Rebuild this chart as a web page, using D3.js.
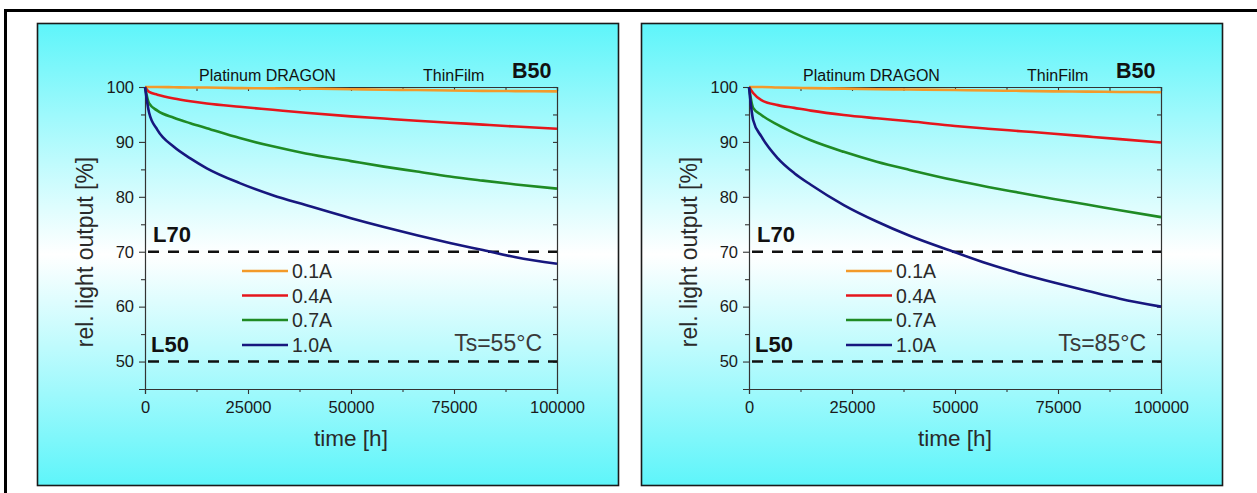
<!DOCTYPE html>
<html><head><meta charset="utf-8">
<script src="https://cdn.jsdelivr.net/npm/d3@7"></script>
<style>
html,body{margin:0;padding:0;background:#fff;}
svg{display:block;font-family:"Liberation Sans",Arial,Helvetica,sans-serif;}
</style></head>
<body>
<svg id="chart" width="1257" height="493"></svg>
<script>
// ---- data ----
const timeH = [0, 1000, 3000, 7000, 11000, 15000, 23000, 31000, 39000, 50000, 58000, 66000, 74000, 82000, 90000, 100000];
const currents = ["0.1A", "0.4A", "0.7A", "1.0A"];
const seriesColors = ["#f39a2a", "#e5161c", "#1f8a24", "#17177e"];

// Ts = 55°C
const ts55_01A = [100, 100, 100, 99.95, 99.9, 99.9, 99.8, 99.75, 99.7, 99.6, 99.5, 99.45, 99.35, 99.3, 99.25, 99.2];
const ts55_04A = [100, 99.1, 98.6, 97.9, 97.4, 97.0, 96.4, 95.85, 95.3, 94.65, 94.25, 93.85, 93.5, 93.15, 92.8, 92.4];
const ts55_07A = [100, 97.0, 95.7, 94.4, 93.4, 92.5, 90.7, 89.2, 87.9, 86.5, 85.5, 84.6, 83.7, 82.95, 82.25, 81.5];
const ts55_10A = [100, 95.3, 92.2, 89.1, 87.0, 85.2, 82.5, 80.3, 78.5, 76.1, 74.5, 73.0, 71.6, 70.3, 69.0, 67.8];

// Ts = 85°C
const ts85_01A = [100, 100, 100, 99.9, 99.85, 99.8, 99.7, 99.6, 99.55, 99.45, 99.35, 99.3, 99.2, 99.15, 99.1, 99.05];
const ts85_04A = [100, 98.9, 97.6, 96.7, 96.2, 95.7, 94.9, 94.3, 93.75, 92.9, 92.4, 91.95, 91.5, 91.0, 90.5, 89.9];
const ts85_07A = [100, 96.2, 94.9, 93.1, 91.6, 90.3, 88.2, 86.4, 84.9, 83.0, 81.8, 80.7, 79.6, 78.6, 77.55, 76.3];
const ts85_10A = [100, 94.0, 91.0, 87.0, 84.3, 82.2, 78.5, 75.5, 72.9, 69.9, 67.8, 66.0, 64.4, 62.9, 61.45, 60.0];

const xTicks = [0, 25000, 50000, 75000, 100000];
const xMinorTicks = [12500, 37500, 62500, 87500];
const yTicks = [50, 60, 70, 80, 90, 100];
const yMinorTicks = [55, 65, 75, 85, 95];
const limitLines = [{v: 70, label: "L70"}, {v: 50, label: "L50"}];

const panels = [
  {temp: "Ts=55°C", series: [ts55_01A, ts55_04A, ts55_07A, ts55_10A], dx: 0},
  {temp: "Ts=85°C", series: [ts85_01A, ts85_04A, ts85_07A, ts85_10A], dx: 604}
];

// ---- drawing ----
const svg = d3.select("#chart");
const defs = svg.append("defs");
const grad = defs.append("linearGradient").attr("id", "bg").attr("x1", 0).attr("y1", 0).attr("x2", 0).attr("y2", 1);
grad.append("stop").attr("offset", "0%").attr("stop-color", "#5ef5fa");
grad.append("stop").attr("offset", "50%").attr("stop-color", "#ffffff");
grad.append("stop").attr("offset", "100%").attr("stop-color", "#5ef5fa");

// outer frame
svg.append("path").attr("d", "M5.5,520 V10.5 H1300").attr("fill", "none").attr("stroke", "#000").attr("stroke-width", 3);

panels.forEach(p => {
  const g = svg.append("g").attr("transform", `translate(${p.dx},0)`);
  g.append("rect").attr("x", 37.5).attr("y", 23.5).attr("width", 581).attr("height", 462)
    .attr("fill", "url(#bg)").attr("stroke", "#1a1a1a").attr("stroke-width", 1.6);

  const x = d3.scaleLinear().domain([0, 100000]).range([145, 557]);
  const y = d3.scaleLinear().domain([45, 100]).range([389, 87]);

  const axisColor = "#333";
  g.append("g").attr("transform", `translate(${x(0)},0)`)
    .call(d3.axisLeft(y).tickValues(yTicks).tickSize(6).tickPadding(5));
  g.append("g").attr("transform", `translate(${x(0)},0)`)
    .call(d3.axisLeft(y).tickValues(yMinorTicks).tickSize(4).tickFormat("")).select(".domain").remove();
  g.append("g").attr("transform", `translate(0,${y(45)})`)
    .call(d3.axisBottom(x).tickValues(xTicks).tickSize(5).tickPadding(7).tickFormat(d3.format("d")));
  g.append("g").attr("transform", `translate(0,${y(45)})`)
    .call(d3.axisBottom(x).tickValues(xMinorTicks).tickSize(3).tickFormat("")).select(".domain").remove();
  g.append("g").attr("transform", `translate(0,${y(100)})`)
    .call(d3.axisTop(x).tickValues(xTicks.concat(xMinorTicks)).tickSize(-4).tickFormat(""));
  g.append("g").attr("transform", `translate(${x(100000)},0)`)
    .call(d3.axisRight(y).tickValues(yTicks.concat(yMinorTicks)).tickSize(-4).tickFormat(""));

  g.selectAll(".domain").attr("stroke", axisColor).attr("stroke-width", 1.2);
  g.selectAll(".tick line").attr("stroke", axisColor).attr("stroke-width", 1.1);
  g.selectAll(".tick text").attr("fill", "#1a1a1a").style("font-size", "16.5px")
    .style("font-family", "'Liberation Sans',Arial,sans-serif");

  // limit lines
  limitLines.forEach(l => {
    g.append("line").attr("x1", x(0) + 3).attr("x2", x(100000)).attr("y1", y(l.v)).attr("y2", y(l.v))
      .attr("stroke", "#111").attr("stroke-width", 2.6).attr("stroke-dasharray", "11,9");
  });
  g.append("text").attr("x", 153).attr("y", y(70) - 10).text("L70")
    .style("font-weight", "bold").style("font-size", "22px").attr("fill", "#111");
  g.append("text").attr("x", 151).attr("y", y(50) - 10).text("L50")
    .style("font-weight", "bold").style("font-size", "22px").attr("fill", "#111");

  // curves
  const line = d3.line().x((d, i) => x(timeH[i])).y(d => y(d)).curve(d3.curveMonotoneX);
  p.series.forEach((s, i) => {
    g.append("path").datum(s).attr("d", line).attr("fill", "none")
      .attr("stroke", seriesColors[i]).attr("stroke-width", 2.6).attr("stroke-linejoin", "round");
  });

  // legend
  const legY = [271, 295.5, 320, 345];
  currents.forEach((c, i) => {
    g.append("line").attr("x1", 242).attr("x2", 288).attr("y1", legY[i]).attr("y2", legY[i])
      .attr("stroke", seriesColors[i]).attr("stroke-width", 2.6);
    g.append("text").attr("x", 292).attr("y", legY[i] + 7).text(c)
      .style("font-size", "19.5px").attr("fill", "#2a2a2a");
  });

  // top labels
  g.append("text").attr("x", 199).attr("y", 81).text("Platinum DRAGON").style("font-size", "16px").attr("fill", "#111");
  g.append("text").attr("x", 423).attr("y", 81).text("ThinFilm").style("font-size", "16px").attr("fill", "#111");
  g.append("text").attr("x", 512).attr("y", 78).text("B50").style("font-size", "21.5px").style("font-weight", "bold").attr("fill", "#111");

  // temperature
  g.append("text").attr("x", 542).attr("y", 351).attr("text-anchor", "end").text(p.temp)
    .style("font-size", "23px").attr("fill", "#3a3a3a");

  // axis titles
  g.append("text").attr("x", 351).attr("y", 446).attr("text-anchor", "middle").text("time [h]")
    .style("font-size", "22.5px").attr("fill", "#2a2a2a");
  g.append("text").attr("transform", "translate(93,252) rotate(-90)").attr("text-anchor", "middle")
    .text("rel. light output [%]").style("font-size", "23px").attr("fill", "#2a2a2a");
});
</script>
</body></html>
